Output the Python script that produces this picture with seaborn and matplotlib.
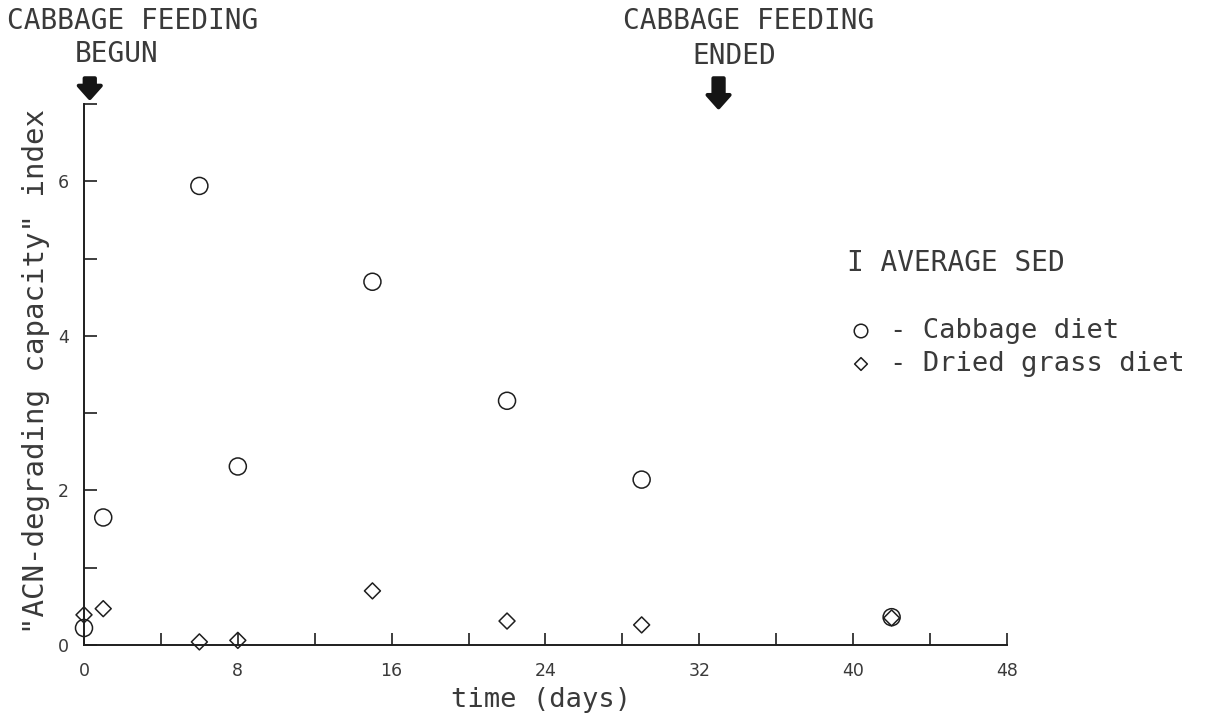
import matplotlib
matplotlib.use("Agg")
import matplotlib.pyplot as plt
from matplotlib.ticker import MultipleLocator
import numpy as np
import pandas as pd
import seaborn as sns

# Sampling days and index values for each diet
days = [0, 1, 6, 8, 15, 22, 29, 42]
cabbage_index = [0.22, 1.65, 5.94, 2.31, 4.70, 3.16, 2.14, 0.36]
grass_index = [0.39, 0.47, 0.04, 0.06, 0.70, 0.31, 0.26, 0.35]
diet_names = ["Cabbage diet", "Dried grass diet"]

# Days at which cabbage feeding started and stopped
feeding_begun_day = 0.3
feeding_ended_day = 33.0

x_major_ticks = [0, 8, 16, 24, 32, 40, 48]
y_major_ticks = [0, 2, 4, 6]

df = pd.DataFrame({
    "day": days + days,
    "index": cabbage_index + grass_index,
    "diet": [diet_names[0]] * len(days) + [diet_names[1]] * len(days),
})

sns.set_style("ticks")
ink = "#1e1e1e"
text_ink = "#3a3a3a"
plt.rcParams["font.family"] = ["DejaVu Sans Mono", "DejaVu Sans"]
plt.rcParams["axes.edgecolor"] = ink
plt.rcParams["text.color"] = text_ink

W, H = 1211, 720
fig = plt.figure(figsize=(W / 100, H / 100), dpi=100)
fig.patch.set_facecolor("white")
ax = fig.add_axes([84 / W, 1 - 645 / H, (1007 - 84) / W, (645 - 104) / H])
ax.set_facecolor("white")

sns.scatterplot(
    data=df, x="day", y="index", style="diet", ax=ax,
    markers={diet_names[0]: "o", diet_names[1]: "D"},
    size="diet", sizes={diet_names[0]: 150, diet_names[1]: 66},
    facecolor="none", edgecolor=ink, linewidth=1.1,
    legend=False, clip_on=False, zorder=3,
)

ax.set_xlim(0, 48)
ax.set_ylim(0, 7)
ax.set_xticks(x_major_ticks)
ax.set_yticks(y_major_ticks)
ax.xaxis.set_minor_locator(MultipleLocator(4))
ax.yaxis.set_minor_locator(MultipleLocator(1))

for side in ("top", "right"):
    ax.spines[side].set_visible(False)
for side in ("left", "bottom"):
    ax.spines[side].set_linewidth(1.4)

ax.tick_params(which="both", direction="in", length=9, width=1.2, color=ink,
               bottom=True, left=True, top=False, right=False)
ax.tick_params(axis="x", which="major", pad=12, labelsize=12.5, labelcolor=text_ink)
ax.tick_params(axis="y", which="major", pad=11, labelsize=12.5, labelcolor=text_ink)
for lab in ax.get_xticklabels() + ax.get_yticklabels():
    lab.set_fontfamily("DejaVu Sans")

ax.set_xlabel("")
ax.set_ylabel("")
fig.text(541 / W, 1 - 700 / H, "time (days)", ha="center", va="center", fontsize=19.5)
fig.text(36 / W, 1 - 372 / H, '"ACN-degrading capacity" index', ha="center",
         va="center", rotation=90, fontsize=21)

# Feeding period annotations with heavy down arrows
fig.text(7 / W, 1 - 21 / H, "CABBAGE FEEDING", ha="left", va="center", fontsize=20)
fig.text(117 / W, 1 - 54 / H, "BEGUN", ha="center", va="center", fontsize=20)
fig.text(623 / W, 1 - 21 / H, "CABBAGE FEEDING", ha="left", va="center", fontsize=20)
fig.text(734 / W, 1 - 56 / H, "ENDED", ha="center", va="center", fontsize=20)

arrow_style = dict(arrowstyle="simple,head_length=0.9,head_width=1.6,tail_width=0.75",
                   color="#151515", lw=2.8, joinstyle="round", capstyle="round")
ax.annotate("", xy=(feeding_begun_day, 7.04), xytext=(feeding_begun_day, 7.37),
            arrowprops=arrow_style, annotation_clip=False)
ax.annotate("", xy=(feeding_ended_day, 6.92), xytext=(feeding_ended_day, 7.37),
            arrowprops=arrow_style, annotation_clip=False)

# Key
fig.text(847 / W, 1 - 263 / H, "I AVERAGE SED", ha="left", va="center", fontsize=20)
fig.text(890 / W, 1 - 331 / H, "- Cabbage diet", ha="left", va="center", fontsize=19.5)
fig.text(890 / W, 1 - 364 / H, "- Dried grass diet", ha="left", va="center", fontsize=19.5)
key_ax = fig.add_axes([0, 0, 1, 1], facecolor="none")
key_ax.set_axis_off()
key_ax.set_xlim(0, W)
key_ax.set_ylim(H, 0)
key_ax.scatter([861], [331], marker="o", s=95, facecolor="none", edgecolor=ink, linewidth=1.1)
key_ax.scatter([861], [364], marker="D", s=42, facecolor="none", edgecolor=ink, linewidth=1.1)

fig.savefig("out.png", dpi=100, facecolor="white")
